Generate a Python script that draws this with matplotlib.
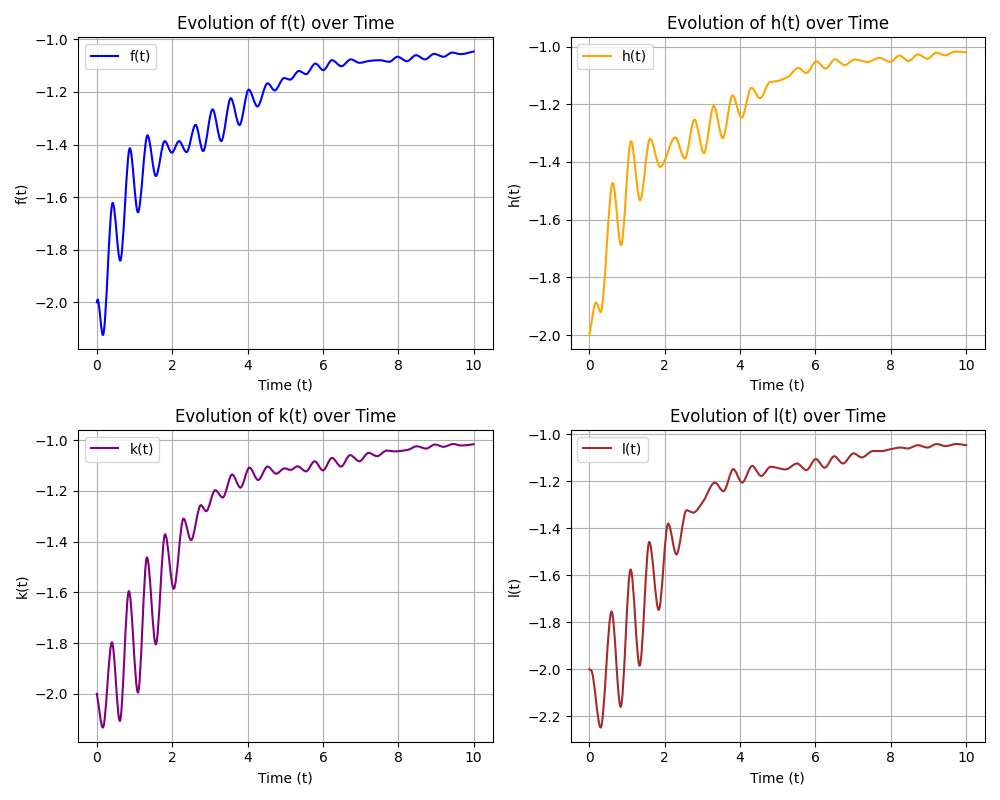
import matplotlib
matplotlib.use("Agg")
import matplotlib.pyplot as plt
from matplotlib.path import Path
from matplotlib.patches import PathPatch
from matplotlib.lines import Line2D

# values (turning points of each curve)
t_f = [0.0, 0.02, 0.16, 0.42, 0.62, 0.875, 1.09, 1.345, 1.565, 1.80, 1.99, 2.18, 2.38,
       2.62, 2.82, 3.07, 3.30, 3.555, 3.785, 4.03, 4.26, 4.53, 4.72, 4.97, 5.13,
       5.36, 5.55, 5.80, 6.01, 6.24, 6.49, 6.74, 6.97, 7.23, 7.50, 7.76, 7.98,
       8.23, 8.47, 8.71, 8.95, 9.20, 9.43, 9.65, 10.0]
f_vals = [-2.0, -1.99, -2.125, -1.622, -1.842, -1.414, -1.658, -1.365, -1.52, -1.387,
          -1.431, -1.387, -1.429, -1.325, -1.425, -1.266, -1.387, -1.224, -1.326,
          -1.191, -1.255, -1.167, -1.194, -1.147, -1.153, -1.12, -1.132, -1.092,
          -1.117, -1.079, -1.102, -1.076, -1.089, -1.082, -1.079, -1.085, -1.066,
          -1.083, -1.06, -1.076, -1.055, -1.066, -1.05, -1.056, -1.046]

t_h = [0.0, 0.177, 0.30, 0.62, 0.84, 1.105, 1.345, 1.61, 1.88, 2.28, 2.535, 2.79,
       3.04, 3.30, 3.54, 3.80, 4.04, 4.30, 4.53, 4.79, 4.965, 5.27, 5.54, 5.76,
       6.025, 6.27, 6.52, 6.775, 7.04, 7.39, 7.70, 7.99, 8.23, 8.47, 8.72, 8.97,
       9.21, 9.44, 9.71, 10.0]
h_vals = [-2.0, -1.887, -1.92, -1.473, -1.688, -1.328, -1.533, -1.319, -1.417,
          -1.315, -1.388, -1.253, -1.369, -1.206, -1.317, -1.169, -1.247, -1.143,
          -1.179, -1.123, -1.12, -1.105, -1.074, -1.091, -1.051, -1.076, -1.044,
          -1.064, -1.045, -1.053, -1.039, -1.053, -1.031, -1.05, -1.027, -1.042,
          -1.021, -1.03, -1.017, -1.02]

t_k = [0.0, 0.16, 0.40, 0.61, 0.85, 1.09, 1.33, 1.565, 1.81, 2.04, 2.30, 2.50, 2.76,
       2.90, 3.14, 3.34, 3.59, 3.81, 4.05, 4.28, 4.53, 4.76, 4.98, 5.14, 5.33,
       5.55, 5.78, 6.0, 6.24, 6.48, 6.72, 6.97, 7.21, 7.44, 7.69, 7.90, 8.25,
       8.49, 8.74, 8.97, 9.20, 9.46, 9.67, 10.0]
k_vals = [-2.0, -2.133, -1.797, -2.107, -1.595, -1.995, -1.462, -1.805, -1.371,
          -1.586, -1.309, -1.394, -1.256, -1.28, -1.197, -1.226, -1.135, -1.187,
          -1.108, -1.157, -1.104, -1.132, -1.111, -1.117, -1.103, -1.123, -1.083,
          -1.119, -1.07, -1.104, -1.059, -1.083, -1.05, -1.063, -1.041, -1.044,
          -1.038, -1.024, -1.033, -1.017, -1.026, -1.015, -1.021, -1.016]

t_l = [0.0, 0.05, 0.30, 0.59, 0.83, 1.095, 1.334, 1.59, 1.84, 2.09, 2.31, 2.58,
       2.756, 3.02, 3.33, 3.56, 3.82, 4.055, 4.32, 4.56, 4.81, 5.21, 5.51, 5.76,
       6.01, 6.245, 6.50, 6.73, 7.01, 7.23, 7.525, 7.75, 8.0, 8.26, 8.45, 8.72,
       8.97, 9.22, 9.45, 9.735, 10.0]
l_vals = [-2.0, -2.005, -2.248, -1.754, -2.16, -1.575, -1.985, -1.458, -1.747,
          -1.38, -1.511, -1.323, -1.333, -1.285, -1.205, -1.242, -1.148, -1.205,
          -1.134, -1.177, -1.138, -1.149, -1.124, -1.152, -1.105, -1.142, -1.093,
          -1.124, -1.081, -1.098, -1.071, -1.071, -1.063, -1.056, -1.06, -1.046,
          -1.056, -1.041, -1.05, -1.041, -1.046]

series = [
    ("f(t)", t_f, f_vals, "blue"),
    ("h(t)", t_h, h_vals, "orange"),
    ("k(t)", t_k, k_vals, "purple"),
    ("l(t)", t_l, l_vals, "brown"),
]


def smooth_path(t, v):
    # monotone cubic bezier through the read points (flat tangents at turning points)
    n = len(t)
    h = [t[i + 1] - t[i] for i in range(n - 1)]
    d = [(v[i + 1] - v[i]) / h[i] for i in range(n - 1)]
    m = [d[0]] + [0.0] * (n - 2) + [d[-1]]
    for i in range(1, n - 1):
        if d[i - 1] * d[i] > 0:
            w1 = 2 * h[i] + h[i - 1]
            w2 = h[i] + 2 * h[i - 1]
            m[i] = (w1 + w2) / (w1 / d[i - 1] + w2 / d[i])
    verts = [(t[0], v[0])]
    codes = [Path.MOVETO]
    for i in range(n - 1):
        verts += [(t[i] + h[i] / 3, v[i] + m[i] * h[i] / 3),
                  (t[i + 1] - h[i] / 3, v[i + 1] - m[i + 1] * h[i] / 3),
                  (t[i + 1], v[i + 1])]
        codes += [Path.CURVE4] * 3
    return Path(verts, codes)


fig, axes = plt.subplots(2, 2, figsize=(10, 8))
for ax, (name, t, vals, color) in zip(axes.flat, series):
    ax.add_patch(PathPatch(smooth_path(t, vals), facecolor="none", edgecolor=color,
                           linewidth=1.5, zorder=2, joinstyle="round",
                           capstyle="projecting"))
    ax.plot(t, vals, linestyle="none")
    ax.autoscale_view()
    ax.set_title(f"Evolution of {name} over Time")
    ax.set_xlabel("Time (t)")
    ax.set_ylabel(name)
    ax.legend(handles=[Line2D([], [], color=color, label=name)], loc="upper left")
    ax.grid(True)

plt.tight_layout()
plt.savefig("out.png", dpi=100)
